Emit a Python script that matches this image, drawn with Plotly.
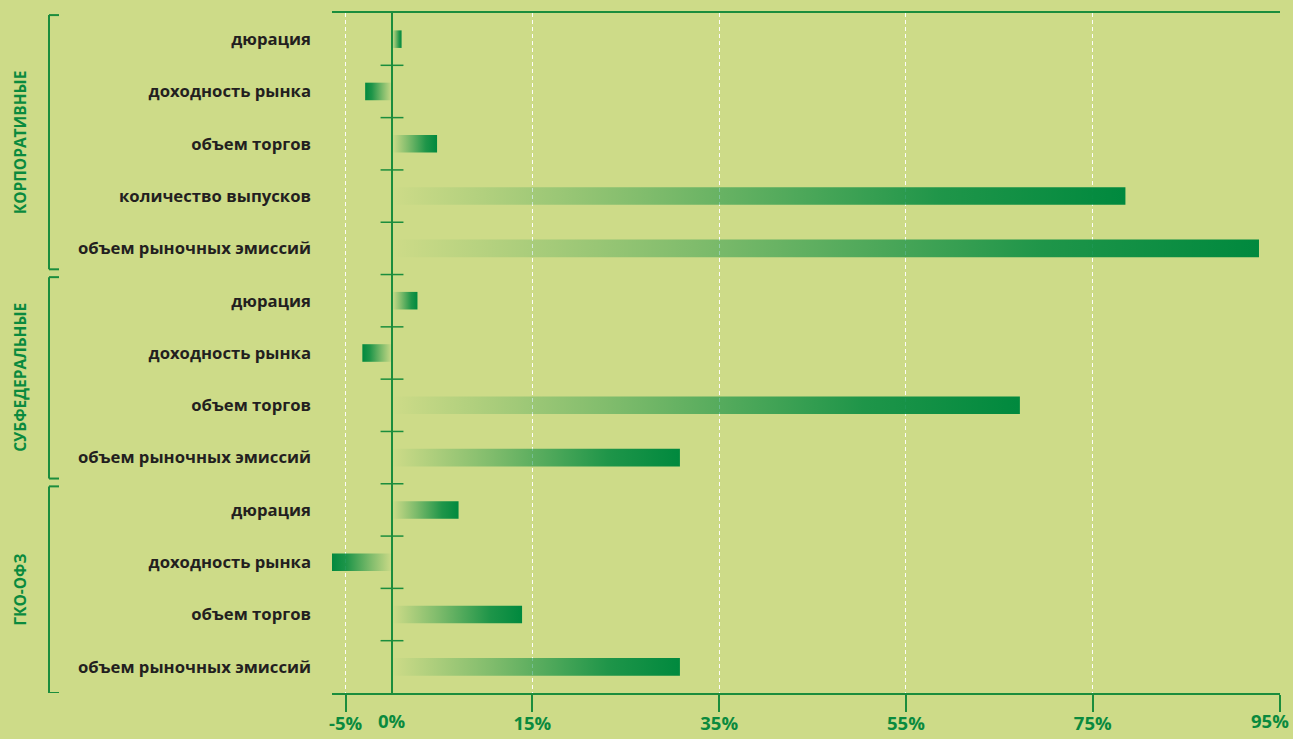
import plotly.graph_objects as go

# ---- data ----
groups = ["КОРПОРАТИВНЫЕ", "СУБФЕДЕРАЛЬНЫЕ", "ГКО-ОФЗ"]
corp_labels = ["дюрация", "доходность рынка", "объем торгов", "количество выпусков", "объем рыночных эмиссий"]
corp_values = [1.0, -2.9, 4.8, 78.5, 92.8]
subfed_labels = ["дюрация", "доходность рынка", "объем торгов", "объем рыночных эмиссий"]
subfed_values = [2.7, -3.2, 67.2, 30.8]
gko_labels = ["дюрация", "доходность рынка", "объем торгов", "объем рыночных эмиссий"]
gko_values = [7.1, -6.5, 13.9, 30.8]
x_tick_values = [-5, 0, 15, 35, 55, 75, 95]
x_tick_labels = ["-5%", "0%", "15%", "35%", "55%", "75%", "95%"]

GREEN = "#0a8a3e"
LINE_GREEN = "#1b8d3d"
BG = "#cddb88"
TEXT = "#231f20"

labels = corp_labels + subfed_labels + gko_labels
values = corp_values + subfed_values + gko_values
group_sizes = [len(corp_labels), len(subfed_labels), len(gko_labels)]
rows = list(range(len(labels)))

W, H = 1293, 739
ML, MR, MT, MB = 332, 13, 13, 46
plot_w = W - ML - MR


def px2paper(px):
    return (px - ML) / plot_w


fig = go.Figure()

half = 0.168
for r, v in zip(rows, values):
    fig.add_trace(go.Scatter(
        x=[0, v, v, 0, 0],
        y=[r - half, r - half, r + half, r + half, r - half],
        mode="lines",
        line=dict(width=0, color="rgba(0,0,0,0)"),
        fill="toself",
        fillgradient=dict(
            type="horizontal",
            start=0,
            stop=v,
            colorscale=[[0, "rgba(0,137,62,0.0)"], [0.35, "rgba(0,137,62,0.38)"],
                        [0.75, "rgba(0,137,62,0.85)"], [1, "rgba(0,137,62,1)"]],
        ),
        hoverinfo="skip",
        showlegend=False,
    ))

shapes = []
# separator ticks on the zero line
for k in range(len(labels) - 1):
    shapes.append(dict(type="line", xref="x", yref="y", x0=-1.25, x1=1.2,
                       y0=k + 0.5, y1=k + 0.5, line=dict(color=LINE_GREEN, width=1.5)))

# group brackets and labels
annotations = []
start = 0
bx0, bx1 = px2paper(49), px2paper(59)
for gi, (g, n) in enumerate(zip(groups, group_sizes)):
    top = start - 0.5 + (0.05 if gi > 0 else 0.04)
    bot = start + n - 0.5 - (0.1 if gi < len(groups) - 1 else 0)
    shapes += [
        dict(type="line", xref="paper", yref="y", x0=bx0, x1=bx0, y0=top, y1=bot,
             line=dict(color=LINE_GREEN, width=2)),
        dict(type="line", xref="paper", yref="y", x0=bx0, x1=bx1, y0=top, y1=top,
             line=dict(color=LINE_GREEN, width=2)),
        dict(type="line", xref="paper", yref="y", x0=bx0, x1=bx1, y0=bot, y1=bot,
             line=dict(color=LINE_GREEN, width=2)),
    ]
    annotations.append(dict(
        xref="paper", yref="y", x=px2paper(20), y=(top + bot) / 2,
        text=g, textangle=-90, showarrow=False,
        font=dict(family="Open Sans", size=15.5, color=GREEN, weight="bold"),
        xanchor="center", yanchor="middle",
    ))
    start += n

TICK_FONT = dict(family="Open Sans", size=18.5, color=GREEN, weight="bold")
# "0%" label (no tick mark at zero in the original)
annotations.append(dict(
    xref="x", yref="paper", x=0, y=0, yanchor="top", yshift=-13,
    text=x_tick_labels[x_tick_values.index(0)], showarrow=False, font=TICK_FONT,
))
# last label sits inside the right edge
annotations.append(dict(
    xref="x", yref="paper", x=x_tick_values[-1], y=0, yanchor="top", xanchor="right",
    yshift=-13, xshift=11,
    text=x_tick_labels[-1], showarrow=False, font=TICK_FONT,
))

main_ticks = [v for v in x_tick_values if v != 0]
main_text = [t if v != x_tick_values[-1] else "" for v, t in zip(x_tick_values, x_tick_labels) if v != 0]

fig.update_layout(
    width=W, height=H,
    margin=dict(l=ML, r=MR, t=MT, b=MB, pad=0, autoexpand=False),
    paper_bgcolor=BG, plot_bgcolor=BG,
    shapes=shapes, annotations=annotations,
    showlegend=False,
    xaxis=dict(
        range=[-6.45, 95.05],
        tickvals=main_ticks, ticktext=main_text,
        ticks="outside", ticklen=17, tickwidth=2, tickcolor=LINE_GREEN,
        ticklabelstandoff=-4,
        tickfont=TICK_FONT,
        showline=True, linecolor=LINE_GREEN, linewidth=2, mirror=True,
        showgrid=True, gridcolor="rgba(255,255,255,0.95)", gridwidth=1, griddash="4px,3px",
        zeroline=True, zerolinecolor=LINE_GREEN, zerolinewidth=2,
        automargin=False, fixedrange=True,
    ),
    yaxis=dict(
        range=[len(labels) - 0.5, -0.5],
        tickvals=rows, ticktext=labels,
        ticks="", ticklabelstandoff=20,
        tickfont=dict(family="Open Sans", size=16.7, color=TEXT, weight="bold"),
        showgrid=False, zeroline=False, showline=False,
        automargin=False, fixedrange=True,
    ),
)

fig.write_html("out.html")
